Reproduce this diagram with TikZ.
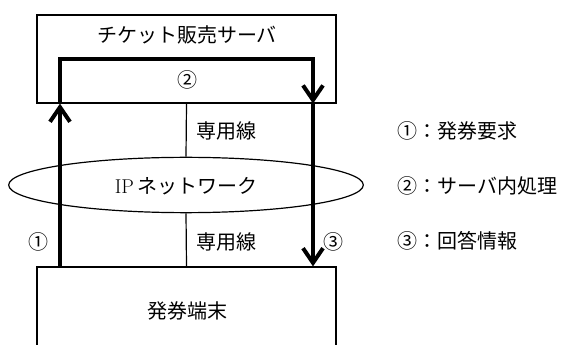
\documentclass[tikz,border=0pt]{standalone}
\usepackage{fontspec}
\newfontfamily\jp{Noto Sans CJK JP}
\usetikzlibrary{arrows.meta,shapes.geometric}
\tikzset{
  box/.style={draw, line width=0.9pt, rectangle, inner sep=0pt},
  flow/.style={line width=3pt, -{Straight Barb[length=11pt,width=15pt,line width=3pt]}},
  thin/.style={line width=0.9pt},
  lbl/.style={font=\jp\fontsize{15}{17}\selectfont, inner sep=0pt},
  leg/.style={font=\jp\fontsize{15}{17}\selectfont, inner sep=0pt, anchor=west}
}
\begin{document}
\begin{tikzpicture}[x=0.75pt,y=-0.75pt]
\path[use as bounding box] (0,0) rectangle (571,345);
\clip (0,0) rectangle (571,345);
\node[box, minimum width=224.25pt, minimum height=66pt] (srv) at (186.5,59) {};
\node[lbl] (srvt) at (187,35) {チケット販売サーバ};
\node[box, minimum width=224.25pt, minimum height=90pt] (term) at (186.5,327) {};
\node[lbl] (termt) at (187,311) {発券端末};
\node[draw, thin, ellipse, minimum width=266pt, minimum height=41.5pt, inner sep=0pt] (net) at (186,185) {};
\node[inner sep=0pt] (nett) at (186,186) {\fontsize{15}{17}\selectfont IP\,{\jp ネットワーク}};
\coordinate (lx) at (60,59);
\coordinate (rx) at (313,59);
\draw[flow] (lx |- term.north) -- (lx |- srv.south);
\draw[flow] (lx |- srv.south) -- (lx) -- (rx) -- (rx |- srv.south);
\draw[flow] (rx |- srv.south) -- (rx |- term.north);
\draw[thin] (srv.south) -- (net.north);
\draw[thin] (net.south) -- (term.north);
\node[lbl] (c2) at (187,80) {②};
\node[lbl] (d1) at (226,131) {専用線};
\node[lbl] (d2) at (226,242) {専用線};
\node[lbl] (c1) at (38,242) {①};
\node[lbl] (c3) at (333,242) {③};
\node[leg] (l1) at (397,131) {①：発券要求};
\node[leg] (l2) at (397,186) {②：サーバ内処理};
\node[leg] (l3) at (397,241) {③：回答情報};
\end{tikzpicture}
\end{document}
